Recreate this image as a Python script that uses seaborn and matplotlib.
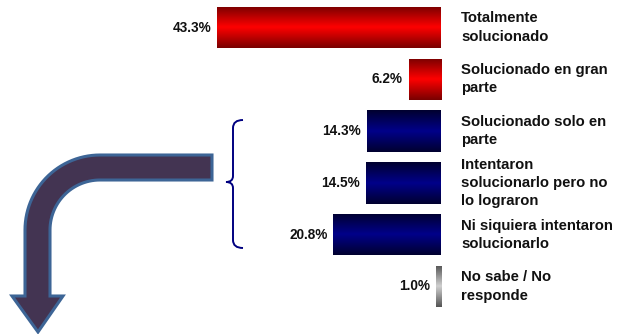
import numpy as np
import pandas as pd
import seaborn as sns
import matplotlib.pyplot as plt
from matplotlib.path import Path
from matplotlib.patches import PathPatch
from matplotlib.colors import LinearSegmentedColormap

categorias = [
    "Totalmente\nsolucionado",
    "Solucionado en gran\nparte",
    "Solucionado solo en\nparte",
    "Intentaron\nsolucionarlo pero no\nlo lograron",
    "Ni siquiera intentaron\nsolucionarlo",
    "No sabe / No\nresponde",
]
porcentajes = [43.3, 6.2, 14.3, 14.5, 20.8, 1.0]
grupos = ["rojo", "rojo", "azul", "azul", "azul", "gris"]

# degradados (borde, centro, borde)
degradados = {
    "rojo": ["#7a0000", "#ff0000", "#7a0000"],
    "azul": ["#000030", "#00008a", "#000030"],
    "gris": ["#555555", "#d0d0d0", "#555555"],
}

sns.set_style("white")
plt.rcParams["font.family"] = ["Liberation Sans", "DejaVu Sans"]

df = pd.DataFrame({"cat": categorias, "pct": porcentajes, "grupo": grupos})

W, H = 618, 334
fig = plt.figure(figsize=(W / 100, H / 100), dpi=100)

# capa de fondo en pixeles para la flecha y la llave
bg = fig.add_axes([0, 0, 1, 1])
bg.set_xlim(0, W)
bg.set_ylim(H, 0)
bg.axis("off")

px_per = 5.17
right_px = 441
top_px, bottom_px = 1.6, 312.4
ax = fig.add_axes([0, 1 - bottom_px / H, right_px / W, (bottom_px - top_px) / H])

sns.barplot(data=df, x="pct", y="cat", hue="grupo", orient="h", width=0.8,
            palette={"rojo": "red", "azul": "navy", "gris": "gray"},
            legend=False, ax=ax)

grad = np.linspace(0, 1, 64).reshape(-1, 1)
for patch in list(ax.patches):
    x0, y0 = patch.get_x(), patch.get_y()
    w, h = patch.get_width(), patch.get_height()
    if w <= 0:
        continue
    fila = int(round(y0 + h / 2))
    cmap = LinearSegmentedColormap.from_list("g", degradados[grupos[fila]])
    im = ax.imshow(grad, extent=[x0, x0 + w, y0 + h, y0], aspect="auto",
                   cmap=cmap, zorder=3)
    im.set_clip_path(patch)
ax.set_xlim(right_px / px_per, 0)
ax.set_ylim(len(categorias) - 0.5, -0.5)

for i, (c, v) in enumerate(zip(categorias, porcentajes)):
    ax.text(v + 6 / px_per, i, f"{v:.1f}%", ha="right", va="center",
            fontsize=9.8, fontweight="bold", color="#111111", zorder=4)
    ax.text(-20 / px_per, i, c, ha="left", va="center", fontsize=10.7,
            fontweight="bold", color="#111111", linespacing=1.38, clip_on=False)

ax.axis("off")

# flecha curva
cx, cy = 100, 230
t1 = np.linspace(np.pi / 2, np.pi, 30)
outer = [(cx + 75 * np.cos(t), cy - 75 * np.sin(t)) for t in t1]
t2 = np.linspace(np.pi, np.pi / 2, 30)
inner = [(cx + 50 * np.cos(t), cy - 50 * np.sin(t)) for t in t2]
pts = [(212, 155)] + outer + [(25, 296), (12, 296), (38, 332), (63, 296), (50, 296)] \
    + inner + [(212, 180), (212, 155)]
codes = [Path.MOVETO] + [Path.LINETO] * (len(pts) - 2) + [Path.CLOSEPOLY]
bg.add_patch(PathPatch(Path(pts, codes), facecolor="#433452", edgecolor="#3d6596",
                       lw=2.2, joinstyle="miter"))

# llave
bx, tip = 233, 226
llave = [(243, 120), (233, 120), (bx, 128), (bx, 176), (bx, 182), (tip, 182),
         (bx, 182), (bx, 188), (bx, 240), (233, 248), (243, 248)]
lcodes = [Path.MOVETO, Path.CURVE3, Path.CURVE3, Path.LINETO, Path.CURVE3, Path.CURVE3,
          Path.CURVE3, Path.CURVE3, Path.LINETO, Path.CURVE3, Path.CURVE3]
bg.add_patch(PathPatch(Path(llave, lcodes), facecolor="none", edgecolor="#000080", lw=1.4))

fig.savefig("out.png", dpi=100)
